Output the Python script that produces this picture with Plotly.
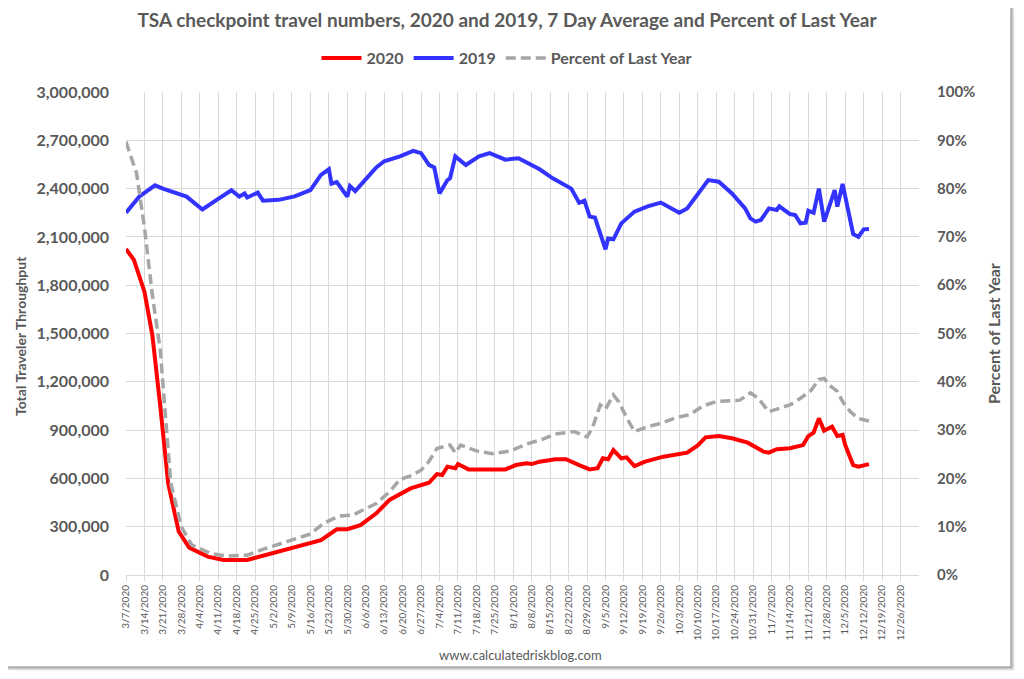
import pandas as pd
import plotly.graph_objects as go

BASE = pd.Timestamp("2020-03-07")

# 2019 (blue) — day offset from 3/7/2020, 7-day average travellers (thousands)
days_2019 = [0, 5, 11, 14, 23, 29, 34, 40, 43, 45, 46, 50, 52, 58, 64, 70, 74, 77, 78, 80,
             84, 85, 87, 91, 95, 98, 104, 109, 112, 115, 117, 119, 122, 123, 125, 129, 134,
             138, 144, 149, 157, 162, 169, 172, 174, 176, 178, 182, 183, 185, 188, 193, 198,
             203, 210, 213, 217, 221, 225, 228, 230, 235, 237, 239, 241, 244, 247, 248, 252,
             254, 256, 258, 259, 261, 263, 265, 269, 270, 272, 276, 278, 280, 282]
vals_2019 = [2250, 2350, 2420, 2400, 2350, 2270, 2325, 2390, 2350, 2370, 2345, 2375, 2325,
             2330, 2352, 2390, 2485, 2520, 2430, 2440, 2350, 2416, 2385, 2458, 2532, 2570,
             2600, 2634, 2620, 2547, 2532, 2370, 2453, 2464, 2600, 2547, 2600, 2620, 2580,
             2588, 2520, 2464, 2400, 2312, 2325, 2226, 2220, 2023, 2090, 2085, 2184, 2257,
             2290, 2313, 2250, 2277, 2366, 2453, 2443, 2396, 2370, 2277, 2215, 2195, 2205,
             2277, 2267, 2290, 2242, 2236, 2184, 2188, 2263, 2250, 2400, 2195, 2391, 2288,
             2429, 2118, 2100, 2147, 2149]

# 2020 (red)
days_2020 = [0, 3, 7, 10, 13, 16, 20, 24, 31, 37, 46, 53, 65, 74, 80, 84, 89, 95, 100, 104,
             108, 115, 117, 118, 120, 122, 125, 126, 130, 144, 148, 152, 154, 157, 163, 167,
             172, 176, 179, 181, 183, 185, 188, 190, 193, 197, 204, 209, 213, 217, 220, 225,
             230, 236, 242, 244, 247, 252, 257, 259, 261, 263, 265, 266, 268, 270, 272, 273,
             276, 278, 282]
vals_2020 = [2025, 1957, 1760, 1490, 1050, 570, 270, 170, 114, 93, 93, 124, 176, 217, 284,
             284, 310, 383, 466, 503, 538, 573, 611, 627, 621, 673, 663, 689, 656, 656, 683,
             694, 689, 704, 719, 719, 683, 656, 663, 725, 719, 776, 725, 731, 677, 704, 735,
             752, 760, 805, 855, 863, 849, 822, 766, 760, 781, 787, 807, 863, 884, 973, 896,
             905, 921, 863, 870, 807, 683, 673, 689]

# Percent of last year (grey dashed)
days_pct = [0, 4, 7, 8, 10, 13, 15, 17, 21, 25, 32, 38, 46, 53, 61, 70, 75, 81, 86, 95, 100,
            104, 108, 112, 115, 118, 123, 125, 127, 133, 139, 146, 152, 158, 163, 170, 175,
            177, 180, 182, 185, 187, 190, 193, 198, 203, 209, 214, 219, 224, 233, 237, 240,
            244, 249, 252, 256, 260, 263, 265, 267, 270, 272, 275, 278, 282]
vals_pct = [89.7, 83.2, 72.0, 67.3, 58.0, 46.6, 32.8, 19.0, 10.0, 6.2, 4.5, 3.9, 4.1, 5.5,
            6.9, 8.5, 10.7, 12.2, 12.4, 14.8, 17.2, 19.8, 20.5, 21.7, 23.5, 26.2, 26.9, 25.3,
            26.9, 25.7, 25.1, 25.7, 27.1, 28.1, 29.2, 29.7, 28.6, 30.4, 35.2, 34.3, 37.3,
            35.9, 32.6, 29.7, 30.7, 31.4, 32.6, 33.2, 35.0, 35.9, 36.2, 37.7, 36.6, 33.8,
            34.7, 35.2, 36.6, 38.2, 40.5, 40.7, 39.3, 38.0, 35.9, 33.8, 32.4, 31.9]

tick_dates = pd.date_range("2020-03-07", "2020-12-26", freq="7D")
tick_text = [f"{d.month}/{d.day}/{d.year}" for d in tick_dates]
y_ticks = list(range(0, 3000001, 300000))
y_text = [f"{v:,}" for v in y_ticks]


def to_dates(days):
    return [BASE + pd.Timedelta(days=d) for d in days]


GREY = "#595959"
FONT = "Lato, 'Liberation Sans', sans-serif"

fig = go.Figure()
fig.add_trace(go.Scatter(x=to_dates(days_2020), y=[v * 1000 for v in vals_2020],
                         name="2020", mode="lines", line=dict(color="#FF0000", width=4)))
fig.add_trace(go.Scatter(x=to_dates(days_2019), y=[v * 1000 for v in vals_2019],
                         name="2019", mode="lines", line=dict(color="#3333FF", width=4)))
fig.add_trace(go.Scatter(x=to_dates(days_pct), y=[v / 100 for v in vals_pct],
                         name="Percent of Last Year", mode="lines", yaxis="y2",
                         line=dict(color="#A6A6A6", width=3.5, dash="10px,5px")))

OFF = 8  # page body margin
W, H = 1016, 671
# desired plot area in screen coords: x 126-919, y 92-575
L, T = 126 - OFF, 92 - OFF
R = W - (919 - OFF)
B = H - (575 - OFF)
pw, ph = W - L - R, H - T - B


def px(x):
    return (x - OFF - L) / pw


def py(y):
    return (H - B - (y - OFF)) / ph


shapes = []
for i, op in enumerate([0.55, 0.35, 0.2, 0.1]):
    shapes.append(dict(type="line", xref="paper", yref="paper",
                       x0=px(1011 + i), x1=px(1011 + i), y0=py(6 + i), y1=py(667 + i),
                       line=dict(color=f"rgba(110,110,110,{op})", width=1.5)))
    shapes.append(dict(type="line", xref="paper", yref="paper",
                       x0=px(6 + i), x1=px(1011 + i), y0=py(667 + i), y1=py(667 + i),
                       line=dict(color=f"rgba(110,110,110,{op})", width=1.5)))

fig.update_layout(
    width=W, height=H,
    margin=dict(l=L, r=R, t=T, b=B, autoexpand=False),
    paper_bgcolor="white", plot_bgcolor="white",
    font=dict(family=FONT, color=GREY),
    title=dict(text="TSA checkpoint travel numbers, 2020 and 2019, 7 Day Average and Percent of Last Year",
               x=(507 - OFF) / W, xref="container", xanchor="center",
               y=1 - (20 - OFF) / H, yref="container", yanchor="middle",
               font=dict(family=FONT, size=19, color=GREY, weight="bold")),
    legend=dict(orientation="h", x=px(507), xanchor="center", y=py(58), yanchor="middle",
                font=dict(family=FONT, size=16, color=GREY, weight="bold"),
                itemwidth=40, bgcolor="rgba(0,0,0,0)"),
    showlegend=True,
    xaxis=dict(type="date", range=["2020-03-07", "2021-01-02"],
               tickmode="array", tickvals=list(tick_dates), ticktext=tick_text,
               tickangle=-90, tickfont=dict(size=10, color=GREY),
               showgrid=True, gridcolor="#D9D9D9", gridwidth=1,
               showline=True, linecolor="#D9D9D9", ticks="outside", ticklen=5,
               tickcolor="#D9D9D9", zeroline=False),
    yaxis=dict(range=[0, 3000000], tickmode="array", tickvals=y_ticks, ticktext=y_text,
               tickfont=dict(size=16, color=GREY, weight="bold"), showgrid=True,
               gridcolor="#D9D9D9", zeroline=False, showline=False, ticks="",
               ticklabelstandoff=16),
    yaxis2=dict(range=[0, 1], overlaying="y", side="right", tickformat=".0%", dtick=0.1,
                tickfont=dict(size=15, color=GREY, weight="bold"), showgrid=False,
                zeroline=False, showline=False, ticks="", ticklabelstandoff=17),
    shapes=shapes,
    annotations=[
        dict(text="Total Traveler Throughput", x=px(20), y=py(336), xref="paper", yref="paper",
             textangle=-90, showarrow=False, xanchor="center", yanchor="middle",
             font=dict(size=14, color=GREY, weight="bold")),
        dict(text="Percent of Last Year", x=px(993), y=py(334), xref="paper", yref="paper",
             textangle=-90, showarrow=False, xanchor="center", yanchor="middle",
             font=dict(size=16, color=GREY, weight="bold")),
        dict(text="www.calculatedriskblog.com", x=px(520), y=py(655), xref="paper", yref="paper",
             showarrow=False, xanchor="center", yanchor="middle",
             font=dict(family=FONT, size=13, color=GREY)),
    ],
)

fig.write_html("out.html")
